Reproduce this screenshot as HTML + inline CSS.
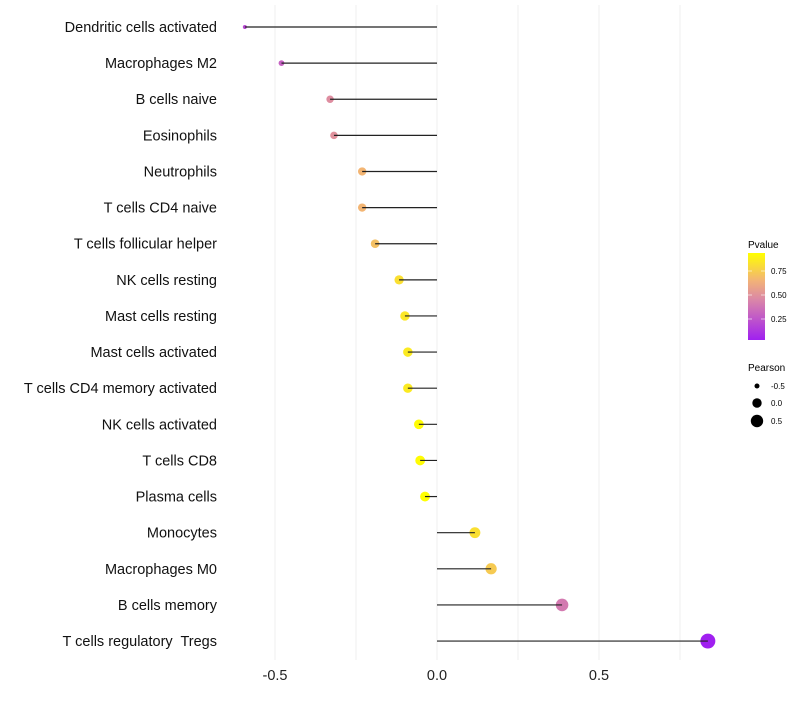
<!DOCTYPE html>
<html><head><meta charset="utf-8"><style>
body{margin:0;background:#fff;font-family:"Liberation Sans",sans-serif;}
svg text{font-family:"Liberation Sans",sans-serif;}
</style></head><body>
<svg id="chart" width="800" height="700" viewBox="0 0 800 700" xmlns="http://www.w3.org/2000/svg">
<defs><linearGradient id="pg" x1="0" y1="1" x2="0" y2="0">
<stop offset="0" stop-color="#A020F0"/><stop offset="0.46" stop-color="#DA86A8"/><stop offset="0.68" stop-color="#F2B278"/><stop offset="1" stop-color="#FFFF00"/>
</linearGradient></defs>
<g id="grid"></g><g id="dots"></g><g id="stems"></g><g id="labels"></g>
<g>
<text x="748" y="248" font-size="10">Pvalue</text>
<rect x="748" y="253" width="17" height="87" fill="url(#pg)"/>
<line x1="748" y1="271" x2="752" y2="271" stroke="#fff" stroke-opacity="0.6"/><line x1="761" y1="271" x2="765" y2="271" stroke="#fff" stroke-opacity="0.6"/>
<line x1="748" y1="295" x2="752" y2="295" stroke="#fff" stroke-opacity="0.6"/><line x1="761" y1="295" x2="765" y2="295" stroke="#fff" stroke-opacity="0.6"/>
<line x1="748" y1="319" x2="752" y2="319" stroke="#fff" stroke-opacity="0.6"/><line x1="761" y1="319" x2="765" y2="319" stroke="#fff" stroke-opacity="0.6"/>
<text x="771" y="274" font-size="8">0.75</text><text x="771" y="298" font-size="8">0.50</text><text x="771" y="322" font-size="8">0.25</text>
</g>
<g>
<text x="748" y="371" font-size="10">Pearson</text>
<circle cx="757" cy="386" r="2.5"/><text x="771" y="389" font-size="8">-0.5</text>
<circle cx="757" cy="403" r="4.7"/><text x="771" y="406" font-size="8">0.0</text>
<circle cx="757" cy="421" r="6.2"/><text x="771" y="424" font-size="8">0.5</text>
</g>
</svg>
<script>
const categories=["Dendritic cells activated","Macrophages M2","B cells naive","Eosinophils","Neutrophils","T cells CD4 naive","T cells follicular helper","NK cells resting","Mast cells resting","Mast cells activated","T cells CD4 memory activated","NK cells activated","T cells CD8","Plasma cells","Monocytes","Macrophages M0","B cells memory","T cells regulatory  Tregs"];
const pearson=[-0.593,-0.48,-0.33,-0.318,-0.231,-0.231,-0.191,-0.117,-0.099,-0.09,-0.09,-0.056,-0.052,-0.037,0.117,0.167,0.386,0.836];
const pvalue=[0.2,0.3,0.48,0.5,0.66,0.66,0.7,0.82,0.85,0.86,0.86,0.93,0.93,0.98,0.82,0.74,0.4,0.03];
const xTicks=[-0.5,0,0.5];
const xTickLabels=["-0.5","0.0","0.5"];
const NS="http://www.w3.org/2000/svg";
const xs=v=>437+v*324;
const ys=i=>27+i*36.12;
function mk(t,a,p){const e=document.createElementNS(NS,t);for(const k in a)e.setAttribute(k,a[k]);p.appendChild(e);return e;}
function lerp(a,b,t){return a.map((x,i)=>Math.round(x+(b[i]-x)*t));}
const cstops=[[0,[160,32,240]],[0.46,[218,134,168]],[0.68,[242,178,120]],[1,[255,255,0]]];
function col(p){const t=Math.max(0,Math.min(1,(p-0.03)/0.91));for(let k=0;k<cstops.length-1;k++){const a=cstops[k],b=cstops[k+1];if(t<=b[0])return `rgb(${lerp(a[1],b[1],(t-a[0])/(b[0]-a[0]))})`;}return 'rgb(255,255,0)';}
function rad(v){return Math.sqrt(4+(v+0.6)/1.44*52);}
const grid=document.getElementById('grid'),dots=document.getElementById('dots'),stems=document.getElementById('stems'),labels=document.getElementById('labels');
[-0.25,0.25,0.75].concat(xTicks).forEach(t=>{const g=mk('line',{x1:xs(t),x2:xs(t),y1:5,y2:660,stroke:'#efefef','stroke-width':1},grid);

});
xTicks.forEach((t,i)=>{const e=mk('text',{x:xs(t),y:680,'font-size':14.5,'text-anchor':'middle',fill:'#222'},labels);e.textContent=xTickLabels[i];

});
categories.forEach((c,i)=>{const y=ys(i);
const l=mk('text',{x:217,y:y+5,'font-size':14.5,'text-anchor':'end',fill:'#111'},labels);l.textContent=c;l.style.whiteSpace='pre';


const d=mk('circle',{cx:xs(pearson[i]),cy:y,r:rad(pearson[i]),fill:col(pvalue[i])},dots);


const s=mk('line',{x1:xs(0),x2:xs(pearson[i]),y1:y,y2:y,stroke:'#222','stroke-width':1.2},stems);


});
</script>
</body></html>
